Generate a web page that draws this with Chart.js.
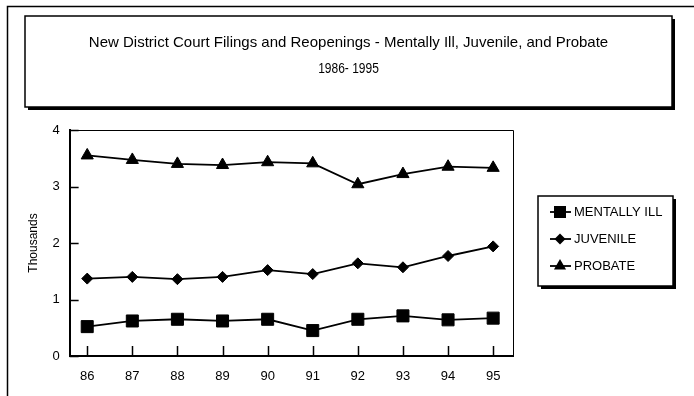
<!DOCTYPE html>
<html>
<head>
<meta charset="utf-8">
<script src="https://cdn.jsdelivr.net/npm/chart.js@4/dist/chart.umd.min.js"></script>
<style>
  html, body { margin: 0; padding: 0; background: #fff; }
</style>
</head>
<body>
<canvas id="courtChart" width="694" height="396"></canvas>
<script>
var years = [86, 87, 88, 89, 90, 91, 92, 93, 94, 95];
var mentallyIll = [0.52, 0.62, 0.65, 0.62, 0.65, 0.45, 0.65, 0.71, 0.64, 0.67];
var juvenile = [1.37, 1.40, 1.36, 1.40, 1.52, 1.45, 1.64, 1.57, 1.77, 1.94];
var probate = [3.55, 3.47, 3.40, 3.38, 3.43, 3.41, 3.04, 3.22, 3.35, 3.33];
var yTicks = [0, 1, 2, 3, 4];
var seriesNames = ['MENTALLY ILL', 'JUVENILE', 'PROBATE'];
var titleLines = ['New District Court Filings and Reopenings - Mentally Ill, Juvenile, and Probate', '1986- 1995'];

var FONT = "'Liberation Sans', Arial, sans-serif";

function points(values) {
    return years.map(function (yr, i) { return { x: yr, y: values[i] }; });
}

function series(label, values, style, radius) {
    return {
        label: label,
        data: points(values),
        borderColor: '#000',
        backgroundColor: '#000',
        borderWidth: 1.8,
        pointStyle: style,
        pointRadius: radius,
        pointBackgroundColor: '#000',
        pointBorderColor: '#000',
        pointBorderWidth: 1,
        tension: 0,
        fill: false
    };
}

// small marker drawer for the legend
function marker(ctx, style, r, x, y) {
    ctx.beginPath();
    if (style === 'rect') {
        var s = Math.SQRT1_2 * r;
        ctx.rect(x - s, y - s, 2 * s, 2 * s);
    } else if (style === 'rectRot') {
        ctx.moveTo(x - r, y); ctx.lineTo(x, y - r); ctx.lineTo(x + r, y); ctx.lineTo(x, y + r);
    } else {
        ctx.moveTo(x, y - r);
        ctx.lineTo(x + r * Math.sin(Math.PI / 3), y + r / 2);
        ctx.lineTo(x - r * Math.sin(Math.PI / 3), y + r / 2);
    }
    ctx.closePath();
    ctx.fill();
}

function shadowBox(ctx, x, y, w, h) {
    ctx.fillStyle = '#000';
    ctx.fillRect(x + 3, y + h, w, 3);
    ctx.fillRect(x + w, y + 3, 3, h);
    ctx.lineWidth = 1.5;
    ctx.strokeStyle = '#000';
    ctx.strokeRect(x, y, w, h);
}

var decorations = {
    id: 'decorations',
    beforeDraw: function (chart) {
        var ctx = chart.ctx;
        ctx.save();
        ctx.fillStyle = '#fff';
        ctx.fillRect(0, 0, chart.width, chart.height);
        ctx.strokeStyle = '#000';
        ctx.lineWidth = 1.5;
        ctx.strokeRect(7.5, 6.5, chart.width + 20, chart.height + 20);

        // title box with its two lines
        shadowBox(ctx, 25, 16, 647, 91);
        var cx = 25 + 647 / 2;
        ctx.fillStyle = '#000';
        ctx.textAlign = 'center';
        ctx.textBaseline = 'middle';
        ctx.font = '15px ' + FONT;
        ctx.fillText(titleLines[0], cx, 43);
        ctx.save();
        ctx.translate(cx, 69);
        ctx.scale(0.8, 1);
        ctx.fillText(titleLines[1], 0, 0);
        ctx.restore();
        ctx.restore();
    },
    afterDraw: function (chart) {
        var ctx = chart.ctx;
        var a = chart.chartArea;
        var xs = chart.scales.x, ys = chart.scales.y;
        ctx.save();
        ctx.strokeStyle = '#000';

        // thin top and right edges of the plot frame
        ctx.lineWidth = 1;
        ctx.beginPath();
        ctx.moveTo(a.left, a.top + 0.5);
        ctx.lineTo(a.right + 0.5, a.top + 0.5);
        ctx.lineTo(a.right + 0.5, a.bottom);
        ctx.stroke();

        // inward tick marks
        ctx.lineWidth = 1.5;
        ctx.beginPath();
        years.forEach(function (yr) {
            var px = Math.round(xs.getPixelForValue(yr)) + 0.5;
            ctx.moveTo(px, a.bottom);
            ctx.lineTo(px, a.bottom - 10);
        });
        yTicks.forEach(function (v) {
            var py = Math.round(ys.getPixelForValue(v)) + 0.5;
            ctx.moveTo(a.left, py);
            ctx.lineTo(a.left + 9, py);
        });
        ctx.stroke();

        // legend box
        shadowBox(ctx, 538, 196, 135, 90);
        ctx.font = '13px ' + FONT;
        ctx.textAlign = 'left';
        ctx.textBaseline = 'middle';
        chart.data.datasets.forEach(function (ds, i) {
            var cy = 212 + i * 27;
            ctx.strokeStyle = '#000';
            ctx.lineWidth = 1.8;
            ctx.beginPath();
            ctx.moveTo(550, cy);
            ctx.lineTo(571, cy);
            ctx.stroke();
            ctx.fillStyle = '#000';
            marker(ctx, ds.pointStyle, ds.pointRadius, 560, cy);
            ctx.fillText(ds.label, 574, cy);
        });
        ctx.restore();
    }
};

var ctx = document.getElementById('courtChart').getContext('2d');
var courtChart = new Chart(ctx, {
    type: 'line',
    data: {
        datasets: [
            series(seriesNames[0], mentallyIll, 'rect', 8.5),
            series(seriesNames[1], juvenile, 'rectRot', 5.5),
            series(seriesNames[2], probate, 'triangle', 7)
        ]
    },
    options: {
        responsive: false,
        devicePixelRatio: 1,
        animation: false,
        layout: { padding: { left: 22, right: 181, top: 130, bottom: 11 } },
        plugins: {
            legend: { display: false },
            tooltip: { enabled: false },
            title: { display: false }
        },
        scales: {
            x: {
                type: 'linear',
                min: 85.61,
                max: 95.44,
                afterBuildTicks: function (scale) {
                    scale.ticks = years.map(function (v) { return { value: v }; });
                },
                afterFit: function (scale) { scale.height = 29; },
                grid: { display: false, drawTicks: false },
                border: { display: true, color: '#000', width: 2 },
                ticks: {
                    color: '#000',
                    padding: 13,
                    maxRotation: 0,
                    font: { family: FONT, size: 13 },
                    callback: function (v) { return String(v); }
                }
            },
            y: {
                min: 0,
                max: 4,
                afterBuildTicks: function (scale) {
                    scale.ticks = yTicks.map(function (v) { return { value: v }; });
                },
                grid: { display: false, drawTicks: false },
                border: { display: true, color: '#000', width: 2 },
                ticks: {
                    color: '#000',
                    padding: 10,
                    font: { family: FONT, size: 13 }
                },
                title: {
                    display: true,
                    text: 'Thousands',
                    color: '#000',
                    font: { family: FONT, size: 12 },
                    padding: { top: 4, bottom: 2 }
                }
            }
        }
    },
    plugins: [decorations]
});
</script>
</body>
</html>
